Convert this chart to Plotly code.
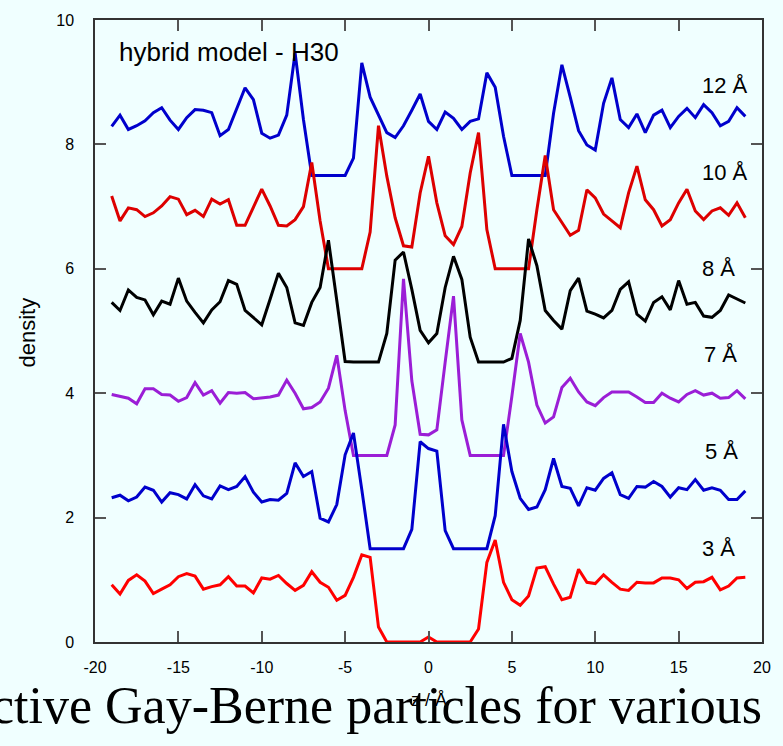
import plotly.graph_objects as go

z = [-19.0, -18.5, -18.0, -17.5, -17.0, -16.5, -16.0, -15.5, -15.0, -14.5,
     -14.0, -13.5, -13.0, -12.5, -12.0, -11.5, -11.0, -10.5, -10.0, -9.5,
     -9.0, -8.5, -8.0, -7.5, -7.0, -6.5, -6.0, -5.5, -5.0, -4.5,
     -4.0, -3.5, -3.0, -2.5, -2.0, -1.5, -1.0, -0.5, 0.0, 0.5,
     1.0, 1.5, 2.0, 2.5, 3.0, 3.5, 4.0, 4.5, 5.0, 5.5,
     6.0, 6.5, 7.0, 7.5, 8.0, 8.5, 9.0, 9.5, 10.0, 10.5,
     11.0, 11.5, 12.0, 12.5, 13.0, 13.5, 14.0, 14.5, 15.0, 15.5,
     16.0, 16.5, 17.0, 17.5, 18.0, 18.5, 19.0]

d12 = [8.29, 8.47, 8.24, 8.30, 8.38, 8.51, 8.59, 8.39, 8.24, 8.43,
       8.56, 8.55, 8.51, 8.14, 8.24, 8.59, 8.91, 8.72, 8.18, 8.10,
       8.15, 8.47, 9.47, 8.40, 7.50, 7.50, 7.50, 7.50, 7.50, 7.78,
       9.31, 8.76, 8.47, 8.19, 8.11, 8.30, 8.55, 8.81, 8.37, 8.24,
       8.52, 8.42, 8.24, 8.37, 8.41, 9.15, 8.92, 8.13, 7.50, 7.50,
       7.50, 7.50, 7.50, 8.50, 9.28, 8.76, 8.22, 7.99, 7.91, 8.66,
       9.07, 8.40, 8.27, 8.49, 8.19, 8.47, 8.55, 8.27, 8.45, 8.58,
       8.43, 8.64, 8.51, 8.30, 8.37, 8.59, 8.45]

d10 = [7.17, 6.77, 6.98, 6.95, 6.84, 6.90, 7.01, 7.16, 7.12, 6.87,
       6.94, 6.84, 7.12, 7.04, 7.11, 6.70, 6.70, 7.00, 7.28, 7.01,
       6.70, 6.69, 6.79, 7.00, 7.71, 6.77, 6.00, 6.00, 6.00, 6.00,
       6.00, 6.59, 8.30, 7.49, 6.82, 6.37, 6.35, 7.22, 7.81, 7.06,
       6.53, 6.39, 6.68, 7.54, 8.19, 6.63, 6.00, 6.00, 6.00, 6.00,
       6.00, 6.95, 7.82, 6.95, 6.74, 6.54, 6.62, 7.27, 7.14, 6.88,
       6.77, 6.66, 7.22, 7.65, 7.11, 6.95, 6.69, 6.79, 7.06, 7.28,
       6.93, 6.79, 6.93, 6.98, 6.86, 7.06, 6.82]

d8 = [5.46, 5.33, 5.66, 5.54, 5.50, 5.26, 5.48, 5.43, 5.85, 5.48,
      5.30, 5.13, 5.34, 5.47, 5.81, 5.75, 5.33, 5.21, 5.10, 5.51,
      5.93, 5.70, 5.13, 5.09, 5.46, 5.70, 6.46, 5.49, 4.51, 4.50,
      4.50, 4.50, 4.50, 4.96, 6.14, 6.27, 5.67, 5.01, 4.81, 4.96,
      5.70, 6.20, 5.83, 4.90, 4.50, 4.50, 4.50, 4.50, 4.56, 5.17,
      6.48, 6.05, 5.33, 5.17, 5.03, 5.65, 5.85, 5.32, 5.27, 5.21,
      5.33, 5.67, 5.79, 5.27, 5.16, 5.46, 5.55, 5.34, 5.81, 5.43,
      5.46, 5.24, 5.22, 5.33, 5.58, 5.51, 5.45]

d7 = [3.98, 3.95, 3.92, 3.83, 4.07, 4.07, 3.98, 3.97, 3.87, 3.93,
      4.17, 3.97, 4.04, 3.84, 4.01, 4.00, 4.01, 3.91, 3.92, 3.94,
      3.97, 4.21, 4.00, 3.75, 3.77, 3.86, 4.08, 4.61, 3.72, 3.00,
      3.00, 3.00, 3.00, 3.00, 3.49, 5.84, 4.20, 3.34, 3.33, 3.41,
      4.50, 5.56, 3.57, 3.00, 3.00, 3.00, 3.00, 3.00, 3.95, 4.96,
      4.50, 3.81, 3.52, 3.62, 4.09, 4.24, 4.02, 3.86, 3.80, 3.93,
      4.02, 4.02, 4.02, 3.94, 3.85, 3.85, 4.00, 3.92, 3.86, 3.98,
      4.04, 3.97, 4.00, 3.92, 3.93, 4.04, 3.91]

d5 = [2.32, 2.36, 2.27, 2.33, 2.49, 2.44, 2.25, 2.40, 2.37, 2.30,
      2.53, 2.35, 2.30, 2.51, 2.45, 2.50, 2.66, 2.41, 2.25, 2.29,
      2.28, 2.39, 2.88, 2.66, 2.74, 1.99, 1.93, 2.21, 3.01, 3.36,
      2.45, 1.50, 1.50, 1.50, 1.50, 1.50, 1.81, 3.22, 3.11, 3.07,
      1.79, 1.50, 1.50, 1.50, 1.50, 1.50, 2.03, 3.50, 2.74, 2.31,
      2.13, 2.17, 2.45, 2.95, 2.50, 2.47, 2.19, 2.48, 2.44, 2.63,
      2.72, 2.37, 2.31, 2.50, 2.49, 2.58, 2.50, 2.33, 2.48, 2.45,
      2.61, 2.44, 2.48, 2.44, 2.29, 2.29, 2.43]

d3 = [0.92, 0.77, 0.99, 1.08, 0.98, 0.78, 0.85, 0.92, 1.05, 1.10,
      1.06, 0.85, 0.89, 0.92, 1.05, 0.90, 0.90, 0.79, 1.03, 1.01,
      1.07, 0.94, 0.83, 0.91, 1.13, 0.96, 0.88, 0.67, 0.75, 1.04,
      1.40, 1.36, 0.24, 0.00, 0.00, 0.00, 0.00, 0.00, 0.08, 0.00,
      0.00, 0.00, 0.00, 0.00, 0.21, 1.28, 1.64, 0.96, 0.68, 0.59,
      0.74, 1.19, 1.21, 0.93, 0.68, 0.72, 1.17, 0.96, 0.94, 1.08,
      0.96, 0.85, 0.83, 0.96, 0.95, 0.95, 1.03, 1.03, 1.00, 0.86,
      0.96, 0.97, 1.04, 0.84, 0.90, 1.03, 1.04]

x_tickvals = [-20, -15, -10, -5, 0, 5, 10, 15, 20]
x_ticktext = ["-20", "-15", "-10", "-5", "0", "5", "10", "15", "20"]
y_tickvals = [0, 2, 4, 6, 8, 10]
y_ticktext = ["0", "2", "4", "6", "8", "10"]

series_names = ["12 Å", "10 Å", "8 Å", "7 Å", "5 Å", "3 Å"]
series_data = [d12, d10, d8, d7, d5, d3]
series_colors = ["#0000CC", "#DD0000", "#000000", "#9B1ED6", "#0000CC", "#FF0000"]
label_x = [17.8, 17.8, 17.4, 17.5, 17.6, 17.4]
label_y = [8.95, 7.55, 6.0, 4.63, 3.07, 1.5]

bg = "#F0FFFF"
fig = go.Figure()
for name, d, c in zip(series_names, series_data, series_colors):
    fig.add_trace(go.Scatter(x=z, y=d, mode="lines", name=name,
                             line=dict(color=c, width=3), showlegend=False))

annotations = []
for name, lx, ly in zip(series_names, label_x, label_y):
    annotations.append(dict(x=lx, y=ly, xref="x", yref="y", text=name, showarrow=False,
                            xanchor="center",
                            font=dict(family="Liberation Sans, Arial", size=22, color="black")))
annotations.append(dict(x=-18.7, y=9.49, xref="x", yref="y", text="hybrid model - H30",
                        showarrow=False, xanchor="left",
                        font=dict(family="Liberation Sans, Arial", size=26, color="black")))
annotations.append(dict(x=(27 - 95) / 672, y=(642 - 331) / 626, xref="paper", yref="paper",
                        text="density", showarrow=False, textangle=-90,
                        xanchor="center", yanchor="middle",
                        font=dict(family="Liberation Sans, Arial", size=22, color="black")))
annotations.append(dict(x=(431 - 95) / 672, y=(642 - 700) / 626, xref="paper", yref="paper",
                        text="z / Å", showarrow=False, xanchor="center", yanchor="middle",
                        font=dict(family="Liberation Sans, Arial", size=18, color="black")))
annotations.append(dict(x=(769 - 95) / 672, y=(642 - 706) / 626, xref="paper", yref="paper",
                        text="ctive Gay-Berne particles for various", showarrow=False,
                        xanchor="right", yanchor="middle",
                        font=dict(family="Liberation Serif, Times New Roman", size=52, color="black")))

axis_common = dict(showline=True, linecolor="#333333", linewidth=1.5, mirror="ticks",
                   ticks="inside", ticklen=11, tickwidth=1.5, tickcolor="#555555",
                   showgrid=False, zeroline=False,
                   tickfont=dict(family="Liberation Sans, Arial", size=16, color="black"))

fig.update_layout(
    width=783, height=746,
    margin=dict(l=95, r=16, t=16, b=104),
    paper_bgcolor=bg, plot_bgcolor=bg,
    annotations=annotations,
    xaxis=dict(range=[-20, 20], tickvals=x_tickvals, ticktext=x_ticktext,
               ticklabelstandoff=10, **axis_common),
    yaxis=dict(range=[0, 10], tickvals=y_tickvals, ticktext=y_ticktext,
               ticklabelstandoff=16, **axis_common),
)

fig.write_html("out.html")
